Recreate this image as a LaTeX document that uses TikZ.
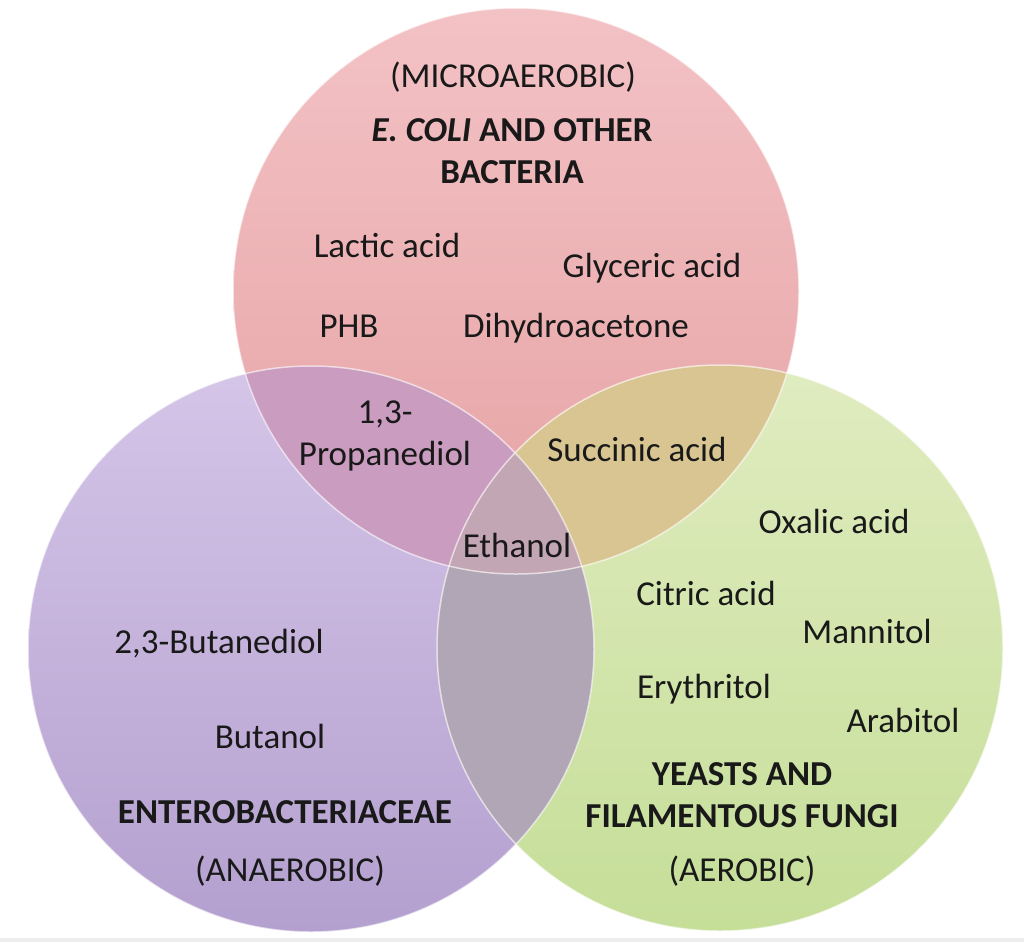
\documentclass[tikz,border=0pt]{standalone}
\usepackage{fontspec}
\setmainfont{Carlito}
\definecolor{pinktop}{RGB}{243,194,197}
\definecolor{pinkbot}{RGB}{230,162,164}
\definecolor{purptop}{RGB}{213,197,232}
\definecolor{purpbot}{RGB}{180,160,207}
\definecolor{greentop}{RGB}{224,236,192}
\definecolor{greenbot}{RGB}{197,222,152}
\definecolor{pinkpurp}{RGB}{202,156,191}
\definecolor{pinkgreen}{RGB}{216,197,145}
\definecolor{purpgreen}{RGB}{177,166,181}
\definecolor{allthree}{RGB}{195,166,180}
\begin{document}
\begin{tikzpicture}[x=1pt,y=-1pt,
      every node/.style = {align=center, inner sep=0pt, anchor=base,
        text=black!90, font=\fontsize{35}{42}\selectfont},
      group/.style = {font=\fontsize{35}{42}\selectfont\bfseries},
      rim/.style = {draw=white, draw opacity=0.6, line width=1.5pt}]
  \useasboundingbox (0,0) rectangle (1024,942);
  \fill[white] (0,0) rectangle (1024,942);
  \fill[black!7] (0,938) rectangle (1024,942);
  \def\rad{283pt}
  \coordinate (ctop) at (516,291);
  \coordinate (cleft) at (311,649);
  \coordinate (cright) at (720,648);
  % the three sets
  \shade[top color=pinktop, bottom color=pinkbot] (ctop) circle[radius=\rad];
  \shade[top color=purptop, bottom color=purpbot] (cleft) circle[radius=\rad];
  \shade[top color=greentop, bottom color=greenbot] (cright) circle[radius=\rad];
  % overlaps
  \begin{scope}
    \clip (cleft) circle[radius=\rad];
    \fill[purpgreen] (cright) circle[radius=\rad];
  \end{scope}
  \begin{scope}
    \clip (ctop) circle[radius=\rad];
    \fill[pinkpurp] (cleft) circle[radius=\rad];
    \fill[pinkgreen] (cright) circle[radius=\rad];
    \clip (cleft) circle[radius=\rad];
    \fill[allthree] (cright) circle[radius=\rad];
  \end{scope}
  \draw[rim] (ctop) circle[radius=\rad];
  \draw[rim] (cleft) circle[radius=\rad];
  \draw[rim] (cright) circle[radius=\rad];
  % top set
  \node (micro) at (513,87) {(MICROAEROBIC)};
  \node[group, anchor=center] (ecoli) at (512,151) {\textit{E. COLI} AND OTHER\\BACTERIA};
  \node (lactic) at (387,257) {Lactic acid};
  \node (glyceric) at (652,277) {Glyceric acid};
  \node (phb) at (349,337) {PHB};
  \node (dha) at (576,337) {Dihydroacetone};
  % overlaps
  \node[anchor=center] (prop) at (385,436) {1,3-\\Propanediol};
  \node (succinic) at (637,461) {Succinic acid};
  \node (ethanol) at (517,557) {Ethanol};
  % right set
  \node (oxalic) at (834,533) {Oxalic acid};
  \node (citric) at (706,605) {Citric acid};
  \node (mannitol) at (867,643) {Mannitol};
  \node (erythritol) at (704,698) {Erythritol};
  \node (arabitol) at (903,732) {Arabitol};
  \node[group, anchor=center] (yeasts) at (742,795) {YEASTS AND\\FILAMENTOUS FUNGI};
  \node (aer) at (742,881) {(AEROBIC)};
  % left set
  \node (butanediol) at (219,653) {2,3-Butanediol};
  \node (butanol) at (270,748) {Butanol};
  \node[group] (entero) at (285,823) {ENTEROBACTERIACEAE};
  \node (anaer) at (290,881) {(ANAEROBIC)};
\end{tikzpicture}
\end{document}
